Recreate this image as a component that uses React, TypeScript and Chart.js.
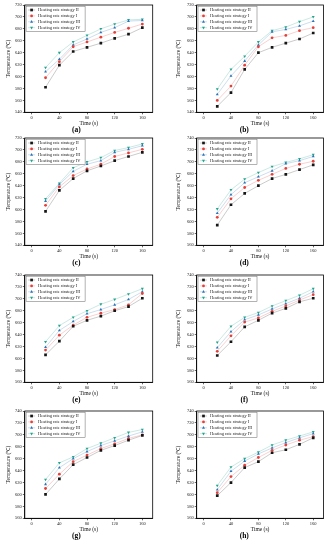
import React, { useEffect, useRef } from 'react';
import { Chart, registerables } from 'chart.js';

Chart.register(...registerables);

const times = [20, 40, 60, 80, 100, 120, 140, 160];
const xTickValues = [0, 40, 80, 120, 160];
const yTicksLow = [540, 560, 580, 600, 620, 640, 660, 680, 700, 720];
const yTicksHigh = [560, 580, 600, 620, 640, 660, 680, 700, 720, 740];
const seriesNames = ['Heating rate strategy II', 'Heating rate strategy I', 'Heating rate strategy III', 'Heating rate strategy IV'];
const panelLabels = ['(a)', '(b)', '(c)', '(d)', '(e)', '(f)', '(g)', '(h)'];
const xTitle = 'Time (s)';
const yTitle = 'Temperature (℃)';

// (a)
const aII = [582, 619, 642, 649, 656, 664, 671, 682];
const aI = [598, 625, 650, 658, 666, 674, 681, 688];
const aIII = [608, 629, 653, 663, 674, 682, 693, 694];
const aIV = [615, 640, 658, 669, 680, 688, 695, 696];
// (b)
const bII = [550, 573, 612, 640, 649, 656, 663, 673];
const bI = [560, 584, 619, 650, 665, 669, 677, 682];
const bIII = [570, 601, 626, 653, 675, 679, 685, 693];
const bIV = [579, 612, 634, 658, 677, 683, 692, 700];
// (c)
const cII = [597, 632, 652, 665, 673, 682, 689, 696];
const cI = [607, 638, 657, 668, 676, 689, 695, 701];
const cIII = [614, 642, 664, 676, 682, 696, 701, 707];
const cIV = [618, 644, 670, 680, 687, 699, 704, 710];
// (d)
const dII = [594, 628, 647, 660, 672, 679, 687, 695];
const dI = [607, 638, 657, 669, 679, 689, 696, 701];
const dIII = [614, 645, 665, 675, 685, 697, 702, 709];
const dIV = [621, 653, 671, 682, 692, 699, 705, 712];
// (e)
const eII = [606, 629, 654, 664, 671, 680, 687, 701];
const eI = [614, 639, 656, 669, 676, 682, 690, 709];
const eIII = [619, 647, 662, 675, 682, 690, 699, 712];
const eIV = [628, 655, 669, 680, 691, 699, 708, 717];
// (f)
const fII = [605, 628, 653, 664, 676, 684, 695, 701];
const fI = [612, 638, 661, 668, 679, 688, 698, 707];
const fIII = [618, 645, 665, 673, 683, 692, 701, 712];
const fIV = [627, 654, 669, 677, 688, 697, 706, 717];
// (g)
const gII = [600, 626, 650, 662, 674, 682, 691, 699];
const gI = [610, 634, 655, 666, 677, 685, 694, 700];
const gIII = [617, 645, 660, 672, 682, 690, 698, 705];
const gIV = [625, 653, 663, 677, 686, 695, 704, 709];
// (h)
const hII = [598, 620, 645, 655, 670, 675, 684, 695];
const hI = [603, 630, 649, 662, 674, 683, 691, 697];
const hIII = [608, 639, 656, 668, 678, 687, 695, 702];
const hIV = [615, 646, 660, 671, 683, 691, 698, 705];

const panelSeries = [
  [aII, aI, aIII, aIV],
  [bII, bI, bIII, bIV],
  [cII, cI, cIII, cIV],
  [dII, dI, dIII, dIV],
  [eII, eI, eIII, eIV],
  [fII, fI, fIII, fIV],
  [gII, gI, gIII, gIV],
  [hII, hI, hIII, hIV],
];
const panelYTicks = [yTicksLow, yTicksLow, yTicksLow, yTicksHigh, yTicksHigh, yTicksHigh, yTicksHigh, yTicksHigh];

const colors = ['#151515', '#e4403b', '#2a74b8', '#23a58b'];
const lineColors = ['rgba(20,20,20,0.28)', 'rgba(228,64,59,0.3)', 'rgba(42,116,184,0.3)', 'rgba(35,165,139,0.3)'];
const pointStyles = ['rect', 'circle', 'triangle', 'triangle'];
const pointRotations = [0, 0, 0, 180];
const pointRadii = [1.9, 1.4, 1.7, 1.7];

const FONT = "'Liberation Serif', 'Times New Roman', serif";
Chart.defaults.font.family = FONT;
Chart.defaults.color = '#222';

function drawMarker(ctx: CanvasRenderingContext2D, i: number, x: number, y: number) {
  const r = pointRadii[i];
  ctx.fillStyle = colors[i];
  ctx.beginPath();
  if (i === 0) {
    const s = r * Math.SQRT1_2;
    ctx.rect(x - s, y - s, 2 * s, 2 * s);
  } else if (i === 1) {
    ctx.arc(x, y, r, 0, Math.PI * 2);
  } else if (i === 2) {
    ctx.moveTo(x, y - r);
    ctx.lineTo(x + r * 0.87, y + r * 0.5);
    ctx.lineTo(x - r * 0.87, y + r * 0.5);
    ctx.closePath();
  } else {
    ctx.moveTo(x, y + r);
    ctx.lineTo(x + r * 0.87, y - r * 0.5);
    ctx.lineTo(x - r * 0.87, y - r * 0.5);
    ctx.closePath();
  }
  ctx.fill();
}

const frameAndLegend = {
  id: 'frameAndLegend',
  afterDraw(chart: any) {
    const { ctx, chartArea } = chart;
    ctx.save();
    ctx.strokeStyle = '#000';
    ctx.lineWidth = 0.8;
    ctx.strokeRect(chartArea.left, chartArea.top, chartArea.right - chartArea.left, chartArea.bottom - chartArea.top);
    const x0 = chartArea.left + 1.3;
    const y0 = chartArea.top + 1.2;
    const w = 59;
    const h = 25.5;
    ctx.fillStyle = '#fff';
    ctx.fillRect(x0, y0, w, h);
    ctx.strokeStyle = '#666';
    ctx.lineWidth = 0.5;
    ctx.strokeRect(x0, y0, w, h);
    ctx.font = `4.4px ${FONT}`;
    ctx.textBaseline = 'middle';
    ctx.textAlign = 'left';
    chart.data.datasets.forEach((ds: any, i: number) => {
      const y = y0 + 3.8 + i * 5.9;
      ctx.strokeStyle = lineColors[i];
      ctx.lineWidth = 0.8;
      ctx.beginPath();
      ctx.moveTo(x0 + 2, y);
      ctx.lineTo(x0 + 9, y);
      ctx.stroke();
      drawMarker(ctx, i, x0 + 5.5, y);
      ctx.fillStyle = '#222';
      ctx.fillText(ds.label, x0 + 12, y);
    });
    ctx.restore();
  },
};

type PanelProps = { idx: number };

function Panel({ idx }: PanelProps) {
  const ref = useRef<HTMLCanvasElement | null>(null);
  const col = idx % 2;
  const row = Math.floor(idx / 2);
  const left = col === 0 ? 0 : 165;
  const width = col === 0 ? 165 : 166;
  const top = [0, 133, 270, 406][row];
  const height = 137;
  const yw = col === 0 ? 24.8 : 31.7;
  const padRight = col === 0 ? 12.3 : 7.5;
  const yTitlePad = col === 0 ? 5.5 : 10.5;

  useEffect(() => {
    if (!ref.current) return;
    const yTicks = panelYTicks[idx];
    const series = panelSeries[idx];
    const chart = new Chart(ref.current, {
      type: 'line',
      data: {
        datasets: series.map((vals, i) => ({
          label: seriesNames[i],
          data: times.map((t, j) => ({ x: t, y: vals[j] })),
          borderColor: lineColors[i],
          borderWidth: 0.8,
          pointBackgroundColor: colors[i],
          pointBorderColor: colors[i],
          pointBorderWidth: 0,
          pointStyle: pointStyles[i] as any,
          pointRotation: pointRotations[i],
          pointRadius: pointRadii[i],
          tension: 0,
          fill: false,
        })),
      },
      options: {
        responsive: false,
        animation: false,
        devicePixelRatio: 1,
        layout: { padding: { left: 0, right: padRight, top: 5, bottom: 3.2 } },
        plugins: {
          legend: { display: false },
          tooltip: { enabled: false },
          title: {
            display: true,
            position: 'bottom',
            text: panelLabels[idx],
            color: '#000',
            font: { size: 7.5, weight: 'bold', lineHeight: 1 },
            padding: 0,
          },
        },
        scales: {
          x: {
            type: 'linear',
            min: -10,
            max: 175,
            afterBuildTicks: (s: any) => {
              s.ticks = xTickValues.map((v) => ({ value: v }));
            },
            afterFit: (s: any) => {
              s.height = 14;
            },
            ticks: { font: { size: 4.5 }, padding: 1, maxRotation: 0, autoSkip: false, color: '#222' },
            grid: { display: true, drawOnChartArea: false, drawTicks: true, tickLength: 2, color: '#000', lineWidth: 0.6 },
            border: { color: '#000', width: 0.8 },
            title: { display: true, text: xTitle, color: '#111', font: { size: 5.5, lineHeight: 1 }, padding: { top: 0, bottom: 0 } },
          },
          y: {
            type: 'linear',
            min: yTicks[0],
            max: yTicks[yTicks.length - 1],
            afterBuildTicks: (s: any) => {
              s.ticks = yTicks.map((v) => ({ value: v }));
            },
            afterFit: (s: any) => {
              s.width = yw;
            },
            ticks: { font: { size: 4.5 }, padding: 1, autoSkip: false, color: '#222' },
            grid: { display: true, drawOnChartArea: false, drawTicks: true, tickLength: 2, color: '#000', lineWidth: 0.6 },
            border: { color: '#000', width: 0.8 },
            title: { display: true, text: yTitle, color: '#111', font: { size: 5.5, lineHeight: 1 }, padding: { top: yTitlePad, bottom: 0 } },
          },
        },
      } as any,
      plugins: [frameAndLegend],
    });
    return () => chart.destroy();
  }, [idx]);

  return (
    <canvas
      ref={ref}
      width={width}
      height={height}
      style={{ position: 'absolute', left, top, width, height }}
    />
  );
}

export default function App() {
  return (
    <div style={{ position: 'absolute', left: 0, top: 0, width: 331, height: 550, background: '#fff', overflow: 'hidden' }}>
      {panelLabels.map((_, i) => (
        <Panel key={i} idx={i} />
      ))}
    </div>
  );
}
